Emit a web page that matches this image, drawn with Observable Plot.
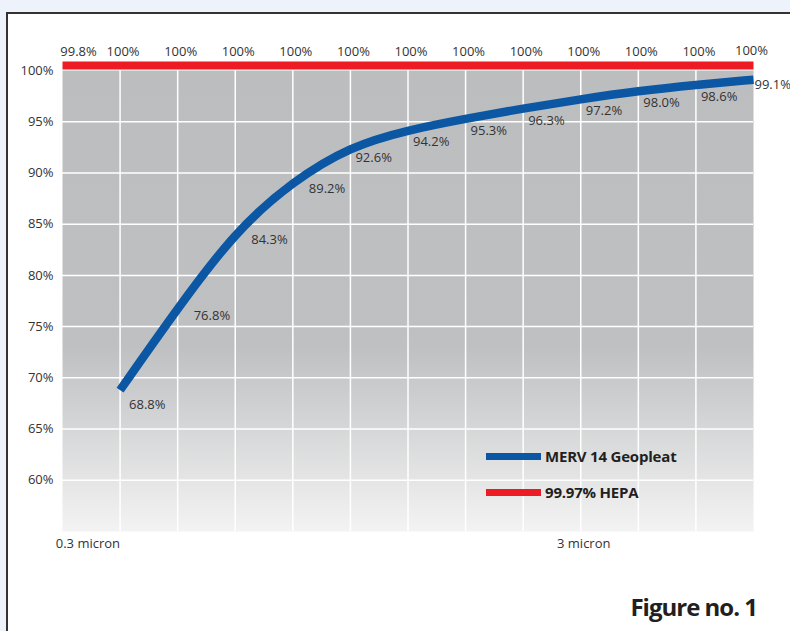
<!DOCTYPE html>
<html>
<head>
<meta charset="utf-8">
<script src="https://cdn.jsdelivr.net/npm/d3@7"></script>
<script src="https://cdn.jsdelivr.net/npm/@observablehq/plot@0.6"></script>
<style>
  html, body { margin: 0; padding: 0; }
  body { width: 790px; height: 631px; overflow: hidden; background: #eef2fb; font-family: "Open Sans", sans-serif; }
  #page { position: relative; width: 790px; height: 631px; overflow: hidden; }
  #box { position: absolute; left: 6px; top: 12px; width: 800px; height: 640px; background: #fff; border-left: 2px solid #333; border-top: 2px solid #333; box-sizing: border-box; }
  #chart { position: absolute; left: 0; top: 0; }
  .leg { position: absolute; left: 486px; display: flex; align-items: center; font-weight: 700; font-size: 15px; color: #231f20; letter-spacing: -0.2px; }
  .sw { width: 55px; height: 7px; margin-right: 4px; }
  #fig { position: absolute; right: 33px; top: 590px; font-weight: 700; font-size: 24px; color: #231f20; letter-spacing: -1px; }
</style>
</head>
<body>
<div id="page">
  <div id="box"></div>
  <div id="chart"></div>
  <div class="leg" style="top:446px"><div class="sw" style="background:#0b57a4"></div><span id="l1"></span></div>
  <div class="leg" style="top:482px"><div class="sw" style="background:#ed1c24"></div><span id="l2"></span></div>
  <div id="fig"></div>
</div>
<script>
// Data
const seriesNames = ["MERV 14 Geopleat", "99.97% HEPA"];
const mervValues = [68.8, 76.8, 84.3, 89.2, 92.6, 94.2, 95.3, 96.3, 97.2, 98.0, 98.6, 99.1];
const hepaValues = [99.8, 100, 100, 100, 100, 100, 100, 100, 100, 100, 100, 100, 100];
const sizeLabels = ["0.3 micron", "3 micron"];
const sizeIndex = [1, 9];
const yTicks = [60, 65, 70, 75, 80, 85, 90, 95, 100];
const figureLabel = "Figure no. 1";

const merv = mervValues.map((v, k) => ({i: k + 1, v}));
const hepa = hepaValues.map((v, k) => ({i: k, v}));
const fmtH = v => (Number.isInteger(v) ? v : v.toFixed(1)) + "%";
const fmtM = v => v.toFixed(1) + "%";

const font = {fontSize: 13, fill: "#333"};

const plot = Plot.plot({
  width: 790,
  height: 560,
  marginLeft: 62,
  marginRight: 37,
  marginTop: 70,
  marginBottom: 29,
  style: {fontFamily: "Open Sans, sans-serif", background: "transparent", overflow: "visible"},
  x: {domain: [0, 12], axis: null},
  y: {domain: [55, 100], axis: null},
  marks: [
    Plot.frame({fill: "url(#bggrad)", stroke: "none"}),
    Plot.ruleY(yTicks.filter(d => d < 100), {stroke: "#fff", strokeWidth: 1.5}),
    Plot.ruleX(d3.range(1, 12), {stroke: "#fff", strokeWidth: 1.5}),
    Plot.axisY({ticks: yTicks, label: null, tickSize: 0, tickPadding: 9, tickFormat: d => d + "%", fontSize: 13, color: "#333"}),
    Plot.text([0], {x: () => sizeIndex[0], frameAnchor: "bottom", dy: 16, text: () => sizeLabels[0], textAnchor: "end", ...font}),
    Plot.text([1], {x: () => sizeIndex[1], frameAnchor: "bottom", dy: 16, text: () => sizeLabels[1], textAnchor: "middle", dx: 3, ...font}),
    Plot.line(hepa, {x: "i", y: () => 100, dy: -5, stroke: "#ed1c24", strokeWidth: 8, strokeLinecap: "butt"}),
    Plot.text(hepa.slice(0, 1), {x: "i", y: () => 100, dy: -19, dx: 16, text: d => fmtH(d.v), ...font}),
    Plot.text(hepa.slice(1, 12), {x: "i", y: () => 100, dy: -19, dx: 3, text: d => fmtH(d.v), ...font}),
    Plot.text(hepa.slice(12), {x: "i", y: () => 100, dy: -20, dx: -2, text: d => fmtH(d.v), ...font}),
    Plot.line(merv, {x: "i", y: "v", curve: "basis", stroke: "#0b57a4", strokeWidth: 8.5, strokeLinecap: "butt", strokeLinejoin: "round"}),
    Plot.text(merv.slice(0, 1), {x: "i", y: "v", text: d => fmtM(d.v), textAnchor: "start", dx: 9, dy: 15, ...font}),
    Plot.text(merv.slice(1, 4), {x: "i", y: "v", text: d => fmtM(d.v), textAnchor: "start", dx: 16, dy: 8, ...font}),
    Plot.text(merv.slice(4, 11), {x: "i", y: "v", text: d => fmtM(d.v), textAnchor: "start", dx: 5, dy: 12, ...font}),
    Plot.text(merv.slice(11), {x: "i", y: "v", text: d => fmtM(d.v), textAnchor: "start", dx: 1, dy: 5, ...font})
  ]
});

const defs = d3.select(plot).insert("defs", ":first-child");
const g = defs.append("linearGradient").attr("id", "bggrad").attr("x1", 0).attr("y1", 0).attr("x2", 0).attr("y2", 1);
g.append("stop").attr("offset", "0%").attr("stop-color", "#bcbdbf");
g.append("stop").attr("offset", "60%").attr("stop-color", "#bfc0c2");
g.append("stop").attr("offset", "100%").attr("stop-color", "#f3f3f3");

document.getElementById("chart").appendChild(plot);
document.getElementById("l1").textContent = seriesNames[0];
document.getElementById("l2").textContent = seriesNames[1];
document.getElementById("fig").textContent = figureLabel;
</script>
</body>
</html>
